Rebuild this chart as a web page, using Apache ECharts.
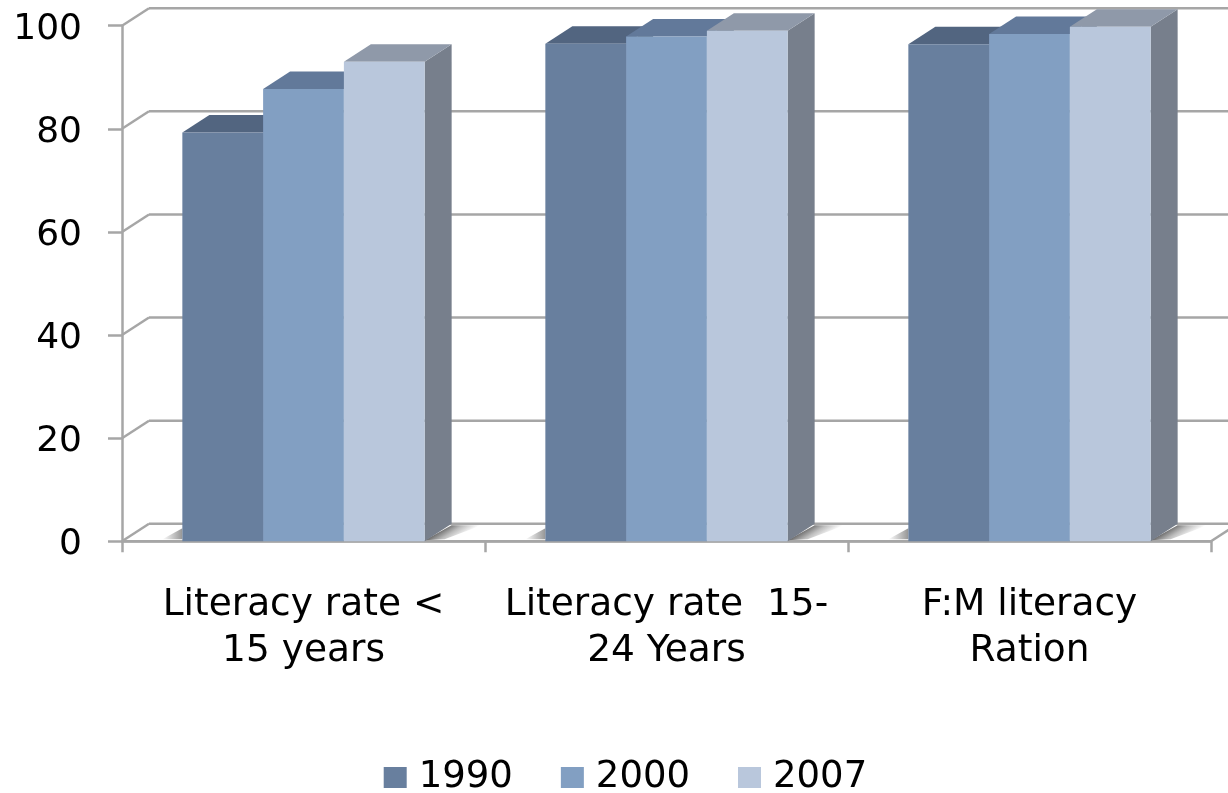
<!DOCTYPE html>
<html><head><meta charset="utf-8">
<style>html,body{margin:0;padding:0;background:#fff;overflow:hidden}#c{width:1228px;height:793px}</style>
<script src="https://cdn.jsdelivr.net/npm/echarts@6/dist/echarts.min.js"></script>
</head><body><div id="c"></div>
<script>
const categories = ['Literacy rate <\n15 years', 'Literacy rate  15-\n24 Years', 'F:M literacy\nRation'];
const years = ['1990', '2000', '2007'];
const values1990 = [79.3, 96.5, 96.4];
const values2000 = [87.7, 97.9, 98.4];
const values2007 = [93.0, 99.0, 99.8];
const yTicks = [0, 20, 40, 60, 80, 100];

const FONT = '"DejaVu Sans"';
const DX = 27, DY = -17.5;
const GRID_COL = '#A6A6A6';
const BAR_FRAC = 0.2225;
const palette = [
  {front:'#687F9E', top:'#526580', side:'#616C7D'},
  {front:'#829FC2', top:'#62799A', side:'#6A7689'},
  {front:'#B9C7DC', top:'#8F99A9', side:'#777F8C'}
];
const chart = echarts.init(document.getElementById('c'), null, {renderer:'canvas'});

function wallItem(params, api){
  const v = api.value(0);
  const a = api.coord([0, v]);
  const cs = params.coordSys;
  const x0 = cs.x, x1 = cs.x + cs.width;
  const y = a[1];
  const line = (p,q)=>({type:'line', shape:{x1:p[0],y1:p[1],x2:q[0],y2:q[1]},
    style:{stroke:GRID_COL, lineWidth:2.5}});
  const children = [
    line([x0,y],[x0+DX,y+DY]),
    line([x0+DX,y+DY],[x1+DX,y+DY])
  ];
  if (v === 0) {
    children.push(line([x1,y],[x1+DX,y+DY]));
    children.push(line([x0,y],[x1,y]));
  }
  return {type:'group', children};
}
function shadowItem(params, api){
  const idx = api.value(0);
  const c = api.coord([idx, 0]);
  const w = api.size([1,0])[0];
  const bw = w*BAR_FRAC;
  const l = c[0]-1.5*bw, r = c[0]+1.5*bw;
  const y = c[1];
  const gx = r+13.5, gy = y-9;
  return {type:'group', children:[
    {type:'polygon', shape:{points:[[r,y-1],[r+DX,y+DY+1.5],[r+DX+30,y+DY+1.5],[r+20,y-2]]},
     style:{fill:new echarts.graphic.LinearGradient(gx,gy,gx+9,gy+14,[
       {offset:0,color:'#6E6E6E'},{offset:0.45,color:'#BDBDBD'},{offset:1,color:'#FFFFFF'}],true)}},
    {type:'polygon', shape:{points:[[l-20,y-2],[l,y-13],[l,y-2]]},
     style:{fill:new echarts.graphic.LinearGradient(0,0,1,0,[
       {offset:0,color:'#FFFFFF'},{offset:1,color:'#969696'}])}}
  ]};
}
function barItem(k){
  return function(params, api){
    const idx = api.value(0);
    const top = api.coord([idx, api.value(1)]);
    const base = api.coord([idx, 0]);
    const w = api.size([1,0])[0];
    const bw = w*BAR_FRAC;
    const x = base[0] + (k-1.5)*bw;
    const y0 = base[1], y1 = top[1];
    const p = palette[k];
    return {type:'group', children:[
      {type:'polygon', shape:{points:[[x+bw,y1],[x+bw+DX,y1+DY],[x+bw+DX,y0+DY],[x+bw,y0]]}, style:{fill:p.side}},
      {type:'polygon', shape:{points:[[x,y1],[x+DX,y1+DY],[x+bw+DX,y1+DY],[x+bw,y1]]}, style:{fill:p.top}},
      {type:'rect', shape:{x:x,y:y1,width:bw,height:y0-y1}, style:{fill:p.front}}
    ]};
  };
}
const barData = [values1990, values2000, values2007];
const series = [
  {type:'custom', name:'wall', silent:true, z:1, clip:false, renderItem:wallItem,
   data:yTicks.map(v=>[v]), encode:{y:0}},
  {type:'custom', name:'shadow', silent:true, z:2, clip:false, renderItem:shadowItem,
   data:categories.map((c,i)=>[i]), encode:{x:0}}
];
years.forEach((yr,k)=>{
  series.push({type:'custom', name:yr, z:3+k, clip:false, renderItem:barItem(k),
    itemStyle:{color:palette[k].front},
    data:barData[k].map((v,i)=>[i,v]), encode:{x:0,y:1}});
});
chart.setOption({
  animation:false,
  backgroundColor:'#fff',
  grid:{left:122, right:17, top:25.7, bottom:251.7, containLabel:false},
  legend:{data:years, left:378.7, top:754, icon:'rect', itemWidth:23, itemHeight:21, itemGap:48,
    textStyle:{fontFamily:FONT, fontSize:37, color:'#000', padding:[0,0,0,7]}, selectedMode:false},
  xAxis:{type:'category', data:categories, boundaryGap:true,
    axisLine:{lineStyle:{color:GRID_COL,width:2.5}},
    axisTick:{show:true, alignWithLabel:false, length:11, lineStyle:{color:GRID_COL,width:2.5}},
    axisLabel:{fontFamily:FONT, fontSize:37.5, color:'#000', margin:41, lineHeight:46, interval:0}},
  yAxis:{type:'value', min:0, max:100, interval:20,
    axisLine:{show:true, lineStyle:{color:GRID_COL,width:2.5}},
    axisTick:{show:true, length:14, lineStyle:{color:GRID_COL,width:2.5}},
    splitLine:{show:false},
    axisLabel:{margin:40, formatter:'{t|{value}}',
      rich:{t:{fontFamily:FONT, fontSize:36, color:'#000', padding:[7,0,0,0]}}}},
  series
});
</script></body></html>
